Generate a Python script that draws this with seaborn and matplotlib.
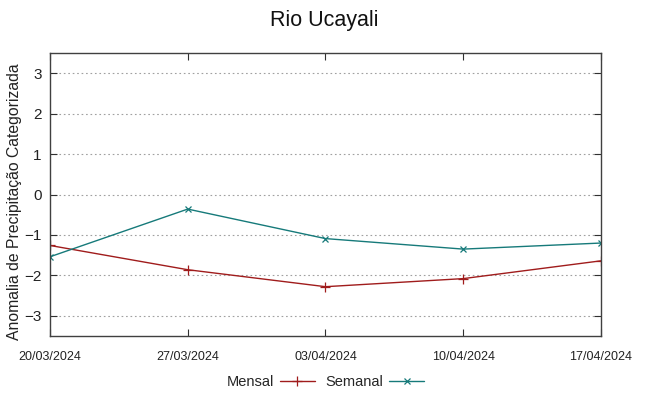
import pandas as pd
import matplotlib.pyplot as plt
import matplotlib.dates as mdates
import seaborn as sns

datas = ['2024-03-20', '2024-03-27', '2024-04-03', '2024-04-10', '2024-04-17']
mensal = [-1.26, -1.86, -2.28, -2.08, -1.64]
semanal = [-1.54, -0.36, -1.09, -1.35, -1.20]

df = pd.DataFrame({'data': pd.to_datetime(datas), 'Mensal': mensal, 'Semanal': semanal})

sns.set_style('white')
plt.rcParams['font.family'] = ['Liberation Sans', 'DejaVu Sans']

fig = plt.figure(figsize=(6.49, 3.96), dpi=100)
ax = fig.add_axes([0.077, 0.1515, 0.849, 0.7145])

cor_m = '#a01c1c'
cor_s = '#167a7a'
sns.lineplot(x='data', y='Mensal', data=df, ax=ax, color=cor_m, marker='+',
             markersize=6.5, markeredgewidth=0.9, markeredgecolor=cor_m, linewidth=1, label='Mensal')
sns.lineplot(x='data', y='Semanal', data=df, ax=ax, color=cor_s, marker='x',
             markersize=5, markeredgewidth=0.9, markeredgecolor=cor_s, linewidth=1, label='Semanal')

ax.set_ylim(-3.5, 3.5)
ax.set_xlim(df['data'].iloc[0], df['data'].iloc[-1])
ax.set_yticks([-3, -2, -1, 0, 1, 2, 3])
ax.set_xticks(df['data'])
ax.xaxis.set_major_formatter(mdates.DateFormatter('%d/%m/%Y'))

ax.yaxis.grid(True, linestyle=(0, (1.5, 2.5)), color='#a0a0a0', linewidth=0.8)
ax.xaxis.grid(False)
for s in ax.spines.values():
    s.set_color('#404040')
    s.set_linewidth(1)

ax.tick_params(axis='both', direction='in', length=5, color='#303030',
               top=True, right=True, left=True, bottom=True, labelcolor='#222222')
ax.tick_params(axis='y', labelsize=11, pad=6)
ax.tick_params(axis='x', pad=11)
for lab in ax.get_xticklabels():
    lab.set_family(['Liberation Sans Narrow', 'Liberation Sans', 'DejaVu Sans'])
    lab.set_fontsize(9)

ax.set_xlabel('')
ax.set_ylabel('Anomalia de Precipitação Categorizada', fontsize=11.3, color='#222222')
ax.yaxis.set_label_coords(-0.05, 0.473)
fig.suptitle('Rio Ucayali', fontsize=15.5, y=0.975, color='#111111')

ax.legend(loc='center', bbox_to_anchor=(0.5, -0.163), ncol=2, frameon=False,
          markerfirst=False, fontsize=10.5, handlelength=2.4, columnspacing=0.75,
          handletextpad=0.4)

plt.savefig('out.png', dpi=100)
